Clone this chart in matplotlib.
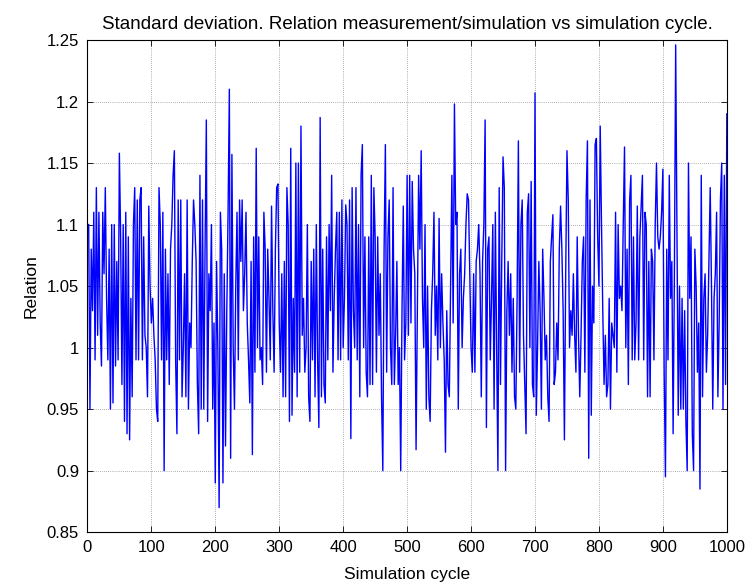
import numpy as np
import matplotlib
matplotlib.use("Agg")
import matplotlib.pyplot as plt

plt.rcParams['font.family'] = ['Liberation Sans', 'DejaVu Sans']

# Relation measurement/simulation, one value every second simulation cycle (2, 4, ..., 1000)
relation = [
    1.10, 0.95, 1.08, 1.03, 1.11, 0.99, 1.13, 1.01, 1.11, 1.02, 0.985, 1.11, 1.06, 1.13, 1.04, 0.99, 1.08, 0.95, 1.10, 0.955, 1.10, 0.985, 1.07, 0.99, 1.158,
    1.09, 0.97, 1.10, 0.94, 1.11, 0.93, 1.09, 0.925, 1.04, 0.96, 1.10, 1.13, 0.99, 1.12, 0.99, 1.12, 1.13, 0.99, 1.09, 1.01, 1.00, 0.96, 1.115, 1.05, 1.02,
    1.04, 1.01, 0.99, 0.95, 0.94, 1.13, 1.10, 0.99, 1.11, 0.90, 1.08, 0.99, 1.06, 0.97, 1.08, 1.10, 1.14, 1.16, 0.99, 0.93, 1.12, 0.99, 1.12, 0.96, 1.00,
    1.06, 0.96, 1.12, 0.95, 1.02, 1.00, 1.07, 1.12, 1.10, 1.07, 0.97, 0.93, 1.14, 0.95, 1.12, 0.95, 1.08, 1.185, 0.94, 1.06, 1.03, 1.10, 0.95, 1.02, 0.89,
    1.07, 1.00, 0.87, 1.11, 1.08, 0.89, 1.06, 0.92, 1.03, 1.11, 1.21, 0.91, 1.157, 1.00, 0.95, 1.05, 1.11, 0.99, 1.12, 1.07, 1.12, 1.03, 1.06, 1.11, 1.02,
    0.99, 0.955, 1.07, 0.913, 1.09, 0.98, 1.162, 1.00, 1.09, 0.99, 1.00, 0.97, 1.11, 1.08, 0.98, 1.08, 1.04, 0.99, 1.115, 1.03, 0.98, 1.08, 1.13, 1.133, 1.02,
    0.98, 1.06, 0.96, 1.07, 0.96, 1.13, 1.10, 0.94, 1.162, 0.945, 1.04, 0.98, 1.15, 0.96, 1.15, 0.98, 1.18, 1.01, 1.04, 0.98, 1.00, 1.10, 0.96, 0.94, 1.07,
    0.99, 1.08, 0.96, 1.10, 0.99, 0.935, 1.187, 0.96, 1.08, 0.97, 0.955, 1.09, 0.99, 1.10, 1.03, 1.14, 0.98, 1.04, 1.08, 1.11, 0.99, 1.11, 0.99, 1.12, 1.00,
    1.04, 1.116, 1.10, 0.99, 1.12, 0.926, 1.13, 1.03, 1.00, 1.13, 0.99, 1.10, 0.96, 1.14, 1.165, 1.00, 1.09, 0.98, 0.96, 1.09, 0.97, 1.14, 0.97, 1.13, 1.09,
    0.98, 1.09, 1.01, 1.06, 0.96, 0.90, 1.08, 1.165, 0.98, 1.09, 1.12, 1.00, 0.97, 1.13, 0.97, 1.01, 1.07, 0.97, 1.00, 0.90, 1.03, 1.115, 0.99, 1.02, 1.14,
    1.01, 1.14, 1.02, 1.135, 1.08, 1.06, 0.917, 1.03, 1.14, 1.08, 1.16, 1.04, 1.00, 1.10, 0.95, 1.05, 0.96, 0.94, 1.03, 1.06, 1.11, 1.01, 1.05, 0.99, 1.105,
    1.00, 1.06, 1.02, 0.99, 0.915, 1.03, 0.97, 0.96, 1.05, 1.14, 1.02, 1.198, 1.10, 1.11, 0.95, 1.06, 1.08, 1.00, 1.04, 1.06, 1.10, 1.125, 1.12, 1.06, 1.00,
    0.98, 1.06, 0.98, 1.07, 1.08, 1.10, 1.06, 0.96, 1.07, 1.10, 1.185, 0.935, 1.08, 1.09, 0.99, 1.04, 1.10, 0.95, 1.11, 1.00, 0.90, 1.13, 0.97, 1.07, 1.155,
    1.13, 0.90, 1.03, 1.07, 1.01, 1.06, 0.98, 1.04, 0.96, 0.95, 1.04, 1.168, 0.98, 1.10, 1.12, 1.01, 0.97, 0.93, 1.11, 1.125, 1.00, 1.135, 0.97, 0.96, 1.207,
    0.945, 1.00, 1.07, 1.03, 0.95, 1.08, 1.04, 0.99, 1.01, 0.96, 0.94, 1.07, 1.09, 1.108, 0.97, 0.98, 1.02, 0.99, 1.08, 1.115, 1.08, 1.03, 0.925, 1.06, 1.16,
    1.12, 1.00, 1.03, 1.01, 1.06, 1.01, 0.98, 1.09, 1.01, 0.96, 1.01, 1.07, 1.09, 0.98, 1.12, 1.168, 0.91, 1.12, 0.945, 1.05, 1.02, 1.165, 1.17, 1.09, 1.05,
    1.18, 1.10, 1.03, 0.97, 1.01, 0.96, 0.97, 1.04, 0.95, 1.02, 1.01, 1.00, 1.11, 0.98, 1.10, 1.04, 1.05, 1.03, 1.10, 1.163, 1.00, 1.08, 0.97, 1.12, 1.14,
    0.99, 1.09, 0.99, 1.02, 1.115, 0.99, 1.09, 1.115, 1.14, 0.99, 1.11, 1.10, 0.96, 1.07, 0.96, 1.08, 1.07, 0.99, 1.10, 1.15, 1.09, 1.08, 1.09, 1.11, 1.145,
    0.98, 0.895, 1.08, 0.99, 1.14, 1.04, 1.07, 0.93, 1.06, 1.246, 1.10, 0.945, 1.05, 0.95, 1.04, 0.95, 1.03, 0.94, 0.90, 1.15, 1.04, 1.09, 0.93, 0.90, 1.08,
    1.05, 0.98, 1.02, 0.885, 1.14, 0.96, 1.04, 1.06, 0.98, 1.01, 1.07, 1.13, 1.05, 0.95, 1.04, 1.06, 1.11, 0.96, 1.02, 1.12, 1.15, 0.95, 1.14, 0.97, 1.19,
]
cycle = np.arange(2, 2 * len(relation) + 1, 2)

x_ticks = list(range(0, 1001, 100))
y_ticks = [0.85, 0.9, 0.95, 1.0, 1.05, 1.1, 1.15, 1.2, 1.25]
y_tick_labels = ['0.85', '0.9', '0.95', '1', '1.05', '1.1', '1.15', '1.2', '1.25']

fig = plt.figure(figsize=(7.47, 5.88), dpi=100)
ax = fig.add_axes([0.117, 0.095, 0.856, 0.837])

ax.plot(cycle, relation, color=(0, 0, 1), linewidth=1.0)

ax.set_xlim(0, 1000)
ax.set_ylim(0.85, 1.25)
ax.set_xticks(x_ticks)
ax.set_yticks(y_ticks)
ax.set_yticklabels(y_tick_labels)

ax.grid(True, color='black', linestyle=(0, (1, 2)), linewidth=0.5, alpha=0.6)
ax.tick_params(direction='in', top=True, right=True, length=4, width=0.6,
               labelsize=12, colors='black', pad=6)
for side in ax.spines.values():
    side.set_linewidth(0.8)
    side.set_color('black')

ax.set_title('Standard deviation. Relation measurement/simulation vs simulation cycle.',
             fontsize=13.5, pad=8)
ax.set_xlabel('Simulation cycle', fontsize=12.5, labelpad=8)
ax.set_ylabel('Relation', fontsize=12.5, labelpad=6)

fig.savefig('out.png', dpi=100)
